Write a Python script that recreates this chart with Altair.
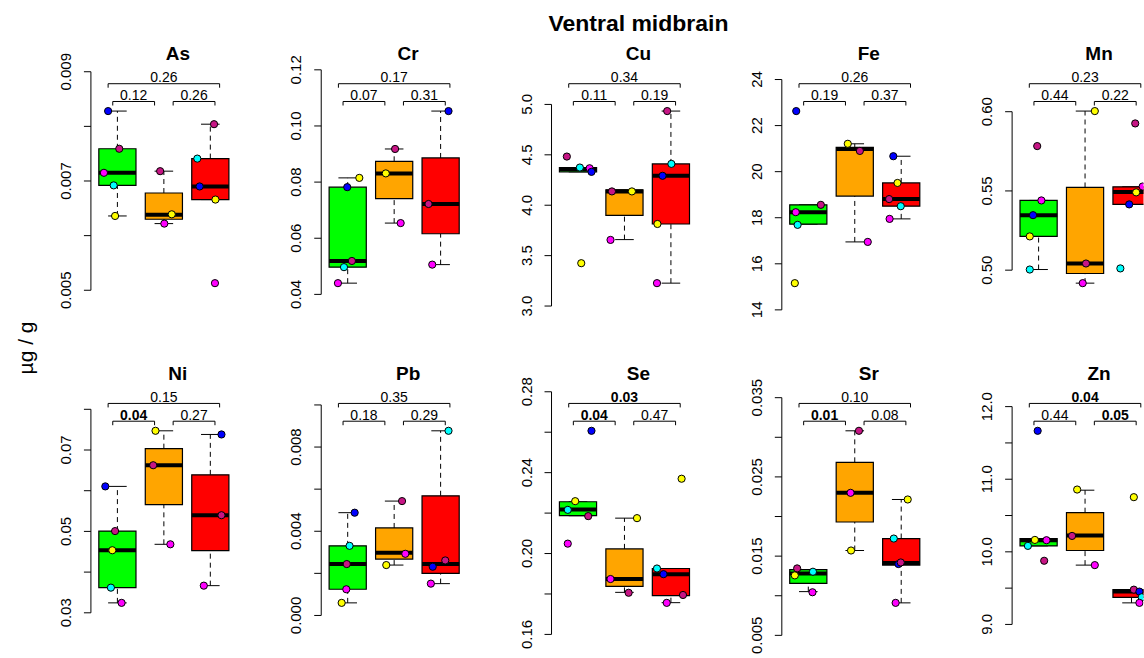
import altair as alt
import pandas as pd

FONT = "Liberation Sans"

# ---------------- data ----------------
ELEMENTS = ["As", "Cr", "Cu", "Fe", "Mn", "Ni", "Pb", "Se", "Sr", "Zn"]
BOX_COLORS = ["#00FF00", "#FFA500", "#FF0000"]
PT_NAMES = ["blue", "violet", "magenta", "cyan", "yellow"]
PT_COLORS = ["#0000FF", "#C71585", "#FF00FF", "#00FFFF", "#FFFF00"]

# box statistics per group (green, orange, red): [lower whisker, q1, median, q3, upper whisker]
AS_BOX = [[0.00636, 0.00692, 0.00715, 0.00759, 0.00828],
          [0.00622, 0.00630, 0.00638, 0.00678, 0.00718],
          [0.00666, 0.00666, 0.00690, 0.00741, 0.00804]]
CR_BOX = [[0.0440, 0.0497, 0.0519, 0.0782, 0.0815],
          [0.0654, 0.0741, 0.0831, 0.0874, 0.0918],
          [0.0506, 0.0616, 0.0722, 0.0886, 0.1053]]
CU_BOX = [[4.331, 4.331, 4.360, 4.374, 4.374],
          [3.659, 3.899, 4.137, 4.153, 4.153],
          [3.227, 3.814, 4.292, 4.410, 4.934]]
FE_BOX = [[17.72, 17.72, 18.24, 18.56, 18.56],
          [16.95, 18.94, 20.98, 21.06, 21.21],
          [17.95, 18.50, 18.81, 19.51, 20.67]]
MN_BOX = [[0.5004, 0.5213, 0.5347, 0.5440, 0.5440],
          [0.4918, 0.4979, 0.5042, 0.5522, 0.6004],
          [0.5415, 0.5415, 0.5493, 0.5526, 0.5526]]
NI_BOX = [[0.03244, 0.03618, 0.04537, 0.05008, 0.06106],
          [0.04683, 0.05659, 0.06626, 0.07033, 0.07472],
          [0.03667, 0.04528, 0.05398, 0.06390, 0.07382]]
PB_BOX = [[0.000598, 0.001244, 0.002441, 0.003307, 0.004882],
          [0.002394, 0.002677, 0.002976, 0.004157, 0.005433],
          [0.001512, 0.002000, 0.002441, 0.005685, 0.008772]]
SE_BOX = [[0.2187, 0.2187, 0.2218, 0.2256, 0.2256],
          [0.1808, 0.1838, 0.1874, 0.2023, 0.2175],
          [0.1757, 0.1792, 0.1898, 0.1926, 0.1926]]
SR_BOX = [[0.01052, 0.01157, 0.01282, 0.01330, 0.01330],
          [0.01571, 0.01931, 0.02299, 0.02684, 0.03082],
          [0.00910, 0.01387, 0.01412, 0.01722, 0.02215]]
ZN_BOX = [[10.082, 10.082, 10.160, 10.183, 10.183],
          [9.817, 10.018, 10.224, 10.539, 10.849],
          [9.297, 9.374, 9.452, 9.479, 9.479]]

# individual points: (group, colour, value, jitter)
AS_PTS = [(1, "blue", 0.00828, -0.20), (1, "violet", 0.00759, 0.04), (1, "magenta", 0.00715, -0.29),
          (1, "cyan", 0.00692, -0.08), (1, "yellow", 0.00636, -0.05),
          (2, "violet", 0.00718, -0.08), (2, "yellow", 0.00639, 0.17), (2, "magenta", 0.00622, 0.01),
          (3, "violet", 0.00804, 0.08), (3, "cyan", 0.00741, -0.28), (3, "blue", 0.00690, -0.23),
          (3, "yellow", 0.00666, 0.11), (3, "magenta", 0.00513, 0.10)]
CR_PTS = [(1, "yellow", 0.0815, 0.25), (1, "blue", 0.0782, -0.01), (1, "violet", 0.0519, 0.09),
          (1, "cyan", 0.0497, -0.08), (1, "magenta", 0.0440, -0.21),
          (2, "violet", 0.0918, 0.02), (2, "yellow", 0.0831, -0.18), (2, "magenta", 0.0654, 0.14),
          (3, "blue", 0.1053, 0.17), (3, "violet", 0.0722, -0.26), (3, "magenta", 0.0506, -0.18)]
CU_PTS = [(1, "violet", 4.483, -0.24), (1, "cyan", 4.374, 0.04), (1, "magenta", 4.367, 0.25),
          (1, "blue", 4.331, 0.29), (1, "yellow", 3.425, 0.07),
          (2, "violet", 4.137, -0.27), (2, "yellow", 4.137, 0.16), (2, "magenta", 3.656, -0.30),
          (3, "violet", 4.934, -0.08), (3, "cyan", 4.410, 0.01), (3, "blue", 4.292, -0.18),
          (3, "yellow", 3.814, -0.29), (3, "magenta", 3.227, -0.30)]
FE_PTS = [(1, "blue", 22.63, -0.26), (1, "violet", 18.56, 0.27), (1, "magenta", 18.24, -0.27),
          (1, "cyan", 17.69, -0.23), (1, "yellow", 15.16, -0.29),
          (2, "yellow", 21.21, -0.15), (2, "violet", 20.90, 0.11), (2, "magenta", 16.95, 0.28),
          (3, "blue", 20.67, -0.17), (3, "yellow", 19.51, -0.08), (3, "violet", 18.81, -0.26),
          (3, "cyan", 18.50, -0.01), (3, "magenta", 17.95, -0.25)]
MN_PTS = [(1, "violet", 0.5783, -0.03), (1, "magenta", 0.5440, 0.06), (1, "blue", 0.5347, -0.12),
          (1, "yellow", 0.5213, -0.19), (1, "cyan", 0.5004, -0.19),
          (2, "yellow", 0.6004, 0.21), (2, "violet", 0.5042, 0.02), (2, "magenta", 0.4918, -0.05),
          (3, "violet", 0.5926, 0.08), (3, "magenta", 0.5528, 0.24), (3, "yellow", 0.5491, 0.10),
          (3, "blue", 0.5415, -0.05), (3, "cyan", 0.5011, -0.24)]
NI_PTS = [(1, "blue", 0.06106, -0.26), (1, "violet", 0.05008, -0.05), (1, "yellow", 0.04537, -0.11),
          (1, "cyan", 0.03618, -0.14), (1, "magenta", 0.03244, 0.09),
          (2, "yellow", 0.07472, -0.18), (2, "violet", 0.06626, -0.23), (2, "magenta", 0.04683, 0.14),
          (3, "blue", 0.07382, 0.24), (3, "violet", 0.05398, 0.24), (3, "magenta", 0.03667, -0.14)]
PB_PTS = [(1, "blue", 0.004882, 0.15), (1, "cyan", 0.003307, 0.04), (1, "violet", 0.002441, -0.02),
          (1, "magenta", 0.001244, -0.03), (1, "yellow", 0.000598, -0.13),
          (2, "violet", 0.005433, 0.17), (2, "magenta", 0.002929, 0.24), (2, "yellow", 0.002394, -0.17),
          (3, "cyan", 0.008772, 0.17), (3, "violet", 0.002614, 0.10), (3, "blue", 0.002315, -0.17),
          (3, "magenta", 0.001512, -0.21)]
SE_PTS = [(1, "blue", 0.2607, 0.29), (1, "yellow", 0.2259, -0.06), (1, "cyan", 0.2216, -0.22),
          (1, "violet", 0.2185, 0.22), (1, "magenta", 0.2049, -0.22),
          (2, "yellow", 0.2175, 0.27), (2, "magenta", 0.1874, -0.30), (2, "violet", 0.1806, 0.09),
          (3, "yellow", 0.2370, 0.23), (3, "cyan", 0.1926, -0.30), (3, "blue", 0.1898, -0.16),
          (3, "violet", 0.1795, 0.26), (3, "magenta", 0.1756, -0.09)]
SR_PTS = [(1, "violet", 0.01345, -0.24), (1, "cyan", 0.01303, 0.10), (1, "yellow", 0.01257, -0.29),
          (1, "magenta", 0.01044, 0.09),
          (2, "violet", 0.03082, 0.09), (2, "magenta", 0.02299, -0.09), (2, "yellow", 0.01571, -0.08),
          (3, "yellow", 0.02215, 0.14), (3, "cyan", 0.01722, -0.16), (3, "blue", 0.01400, -0.06),
          (3, "violet", 0.01420, -0.01), (3, "magenta", 0.00910, -0.12)]
ZN_PTS = [(1, "blue", 11.667, -0.02), (1, "yellow", 10.164, -0.08), (1, "magenta", 10.160, 0.17),
          (1, "cyan", 10.082, -0.23), (1, "violet", 9.877, 0.12),
          (2, "yellow", 10.858, -0.17), (2, "violet", 10.219, -0.28), (2, "magenta", 9.817, 0.21),
          (3, "yellow", 10.753, 0.05), (3, "violet", 9.479, 0.05), (3, "blue", 9.452, 0.17),
          (3, "cyan", 9.374, 0.22), (3, "magenta", 9.297, 0.17)]

# y axis ticks and their labels ("" = unlabeled tick)
AS_TICKS = [0.005, 0.006, 0.007, 0.008, 0.009]
AS_LABELS = ["0.005", "", "0.007", "", "0.009"]
CR_TICKS = [0.04, 0.06, 0.08, 0.10, 0.12]
CR_LABELS = ["0.04", "0.06", "0.08", "0.10", "0.12"]
CU_TICKS = [3.0, 3.5, 4.0, 4.5, 5.0]
CU_LABELS = ["3.0", "3.5", "4.0", "4.5", "5.0"]
FE_TICKS = [14, 16, 18, 20, 22, 24]
FE_LABELS = ["14", "16", "18", "20", "22", "24"]
MN_TICKS = [0.50, 0.55, 0.60]
MN_LABELS = ["0.50", "0.55", "0.60"]
NI_TICKS = [0.03, 0.04, 0.05, 0.06, 0.07, 0.08]
NI_LABELS = ["0.03", "", "0.05", "", "0.07", ""]
PB_TICKS = [0.000, 0.002, 0.004, 0.006, 0.008, 0.010]
PB_LABELS = ["0.000", "", "0.004", "", "0.008", ""]
SE_TICKS = [0.16, 0.18, 0.20, 0.22, 0.24, 0.26, 0.28]
SE_LABELS = ["0.16", "", "0.20", "", "0.24", "", "0.28"]
SR_TICKS = [0.005, 0.010, 0.015, 0.020, 0.025, 0.030, 0.035]
SR_LABELS = ["0.005", "", "0.015", "", "0.025", "", "0.035"]
ZN_TICKS = [9.0, 9.5, 10.0, 10.5, 11.0, 11.5, 12.0]
ZN_LABELS = ["9.0", "", "10.0", "", "11.0", "", "12.0"]

# p-values: [green vs orange, orange vs red, green vs red]
AS_P = ["0.12", "0.26", "0.26"]
CR_P = ["0.07", "0.31", "0.17"]
CU_P = ["0.11", "0.19", "0.34"]
FE_P = ["0.19", "0.37", "0.26"]
MN_P = ["0.44", "0.22", "0.23"]
NI_P = ["0.04", "0.27", "0.15"]
PB_P = ["0.18", "0.29", "0.35"]
SE_P = ["0.04", "0.47", "0.03"]
SR_P = ["0.01", "0.08", "0.10"]
ZN_P = ["0.44", "0.05", "0.04"]

PANELS = [
    ("As", AS_BOX, AS_PTS, AS_TICKS, AS_LABELS, AS_P),
    ("Cr", CR_BOX, CR_PTS, CR_TICKS, CR_LABELS, CR_P),
    ("Cu", CU_BOX, CU_PTS, CU_TICKS, CU_LABELS, CU_P),
    ("Fe", FE_BOX, FE_PTS, FE_TICKS, FE_LABELS, FE_P),
    ("Mn", MN_BOX, MN_PTS, MN_TICKS, MN_LABELS, MN_P),
    ("Ni", NI_BOX, NI_PTS, NI_TICKS, NI_LABELS, NI_P),
    ("Pb", PB_BOX, PB_PTS, PB_TICKS, PB_LABELS, PB_P),
    ("Se", SE_BOX, SE_PTS, SE_TICKS, SE_LABELS, SE_P),
    ("Sr", SR_BOX, SR_PTS, SR_TICKS, SR_LABELS, SR_P),
    ("Zn", ZN_BOX, ZN_PTS, ZN_TICKS, ZN_LABELS, ZN_P),
]

# ---------------- layout / style constants ----------------
PXU = 46.5          # pixels per group unit
X0 = 0.43           # x domain start (group units)
W = 150
W_LAST = 131.5
H = 186
COL_SP = 80.5
ROW_SP = 134
BOX_HALF = 0.4
CAP_HALF = 0.2
SMALL_SPANS = [(0.9, 1.8), (2.2, 3.1)]
BIG_SPAN = (0.8, 3.2)
ONE = pd.DataFrame({"k": [0]})


def bracket_layers(x1, x2, yline, ytext, label, xs):
    df = pd.DataFrame({"x1": [x1], "x2": [x2], "xm": [(x1 + x2) / 2], "p": [label]})
    bold = float(label) <= 0.05
    base = alt.Chart(df)
    line = base.mark_rule(color="black", strokeWidth=1).encode(
        x=alt.X("x1:Q", scale=xs, axis=None), x2="x2:Q", y=alt.value(yline))
    t1 = base.mark_rule(color="black", strokeWidth=1).encode(
        x=alt.X("x1:Q", scale=xs, axis=None), y=alt.value(yline), y2=alt.value(yline + 4))
    t2 = base.mark_rule(color="black", strokeWidth=1).encode(
        x=alt.X("x2:Q", scale=xs, axis=None), y=alt.value(yline), y2=alt.value(yline + 4))
    txt = base.mark_text(font=FONT, fontSize=14, fontWeight="bold" if bold else "normal",
                         baseline="alphabetic", align="center").encode(
        x=alt.X("xm:Q", scale=xs, axis=None), y=alt.value(ytext), text="p:N")
    return [line, t1, t2, txt]


def make_panel(name, box, pts, ticks, labels, pvals, width, clip, extras):
    xs = alt.Scale(domain=[X0, X0 + width / PXU], nice=False, zero=False)
    allv = [v for row in box for v in row] + [p[2] for p in pts]
    vmin, vmax = min(allv), max(allv)
    pad = 0.04 * (vmax - vmin)
    ys = alt.Scale(domain=[vmin - pad, vmax + pad], nice=False, zero=False)

    bdf = pd.DataFrame(box, columns=["lo", "q1", "med", "q3", "hi"])
    bdf["g"] = [1, 2, 3]
    bdf["fill"] = BOX_COLORS
    bdf["xl"] = bdf["g"] - BOX_HALF
    bdf["xr"] = bdf["g"] + BOX_HALF
    bdf["cl"] = bdf["g"] - CAP_HALF
    bdf["cr"] = bdf["g"] + CAP_HALF
    b = alt.Chart(bdf)

    whisk_hi = b.mark_rule(color="black", strokeWidth=1, strokeDash=[5, 4], clip=clip).encode(
        x=alt.X("g:Q", scale=xs, axis=None), y=alt.Y("q3:Q", scale=ys, axis=None), y2="hi:Q")
    whisk_lo = b.mark_rule(color="black", strokeWidth=1, strokeDash=[5, 4], clip=clip).encode(
        x=alt.X("g:Q", scale=xs, axis=None), y=alt.Y("lo:Q", scale=ys, axis=None), y2="q1:Q")
    cap_hi = b.mark_rule(color="black", strokeWidth=1, clip=clip).encode(
        x=alt.X("cl:Q", scale=xs, axis=None), x2="cr:Q", y=alt.Y("hi:Q", scale=ys, axis=None))
    cap_lo = b.mark_rule(color="black", strokeWidth=1, clip=clip).encode(
        x=alt.X("cl:Q", scale=xs, axis=None), x2="cr:Q", y=alt.Y("lo:Q", scale=ys, axis=None))
    boxes = b.mark_rect(stroke="black", strokeWidth=1.2, clip=clip).encode(
        x=alt.X("xl:Q", scale=xs, axis=None), x2="xr:Q",
        y=alt.Y("q1:Q", scale=ys, axis=None), y2="q3:Q",
        fill=alt.Fill("fill:N", scale=None))
    med = b.mark_rule(color="black", strokeWidth=4, clip=clip).encode(
        x=alt.X("xl:Q", scale=xs, axis=None), x2="xr:Q", y=alt.Y("med:Q", scale=ys, axis=None))

    pdf = pd.DataFrame(pts, columns=["g", "c", "v", "dx"])
    pdf["px"] = pdf["g"] + pdf["dx"]
    points = alt.Chart(pdf).mark_circle(size=52, stroke="black", strokeWidth=1, opacity=1,
                                        clip=clip).encode(
        x=alt.X("px:Q", scale=xs, axis=None), y=alt.Y("v:Q", scale=ys, axis=None),
        fill=alt.Fill("c:N", scale=alt.Scale(domain=PT_NAMES, range=PT_COLORS), legend=None))

    tdf = pd.DataFrame({"t": ticks, "lab": labels})
    tick_rules = alt.Chart(tdf).mark_rule(color="black", strokeWidth=1).encode(
        x=alt.value(-7), x2=alt.value(0), y=alt.Y("t:Q", scale=ys, axis=None))
    adf = pd.DataFrame({"a": [min(ticks)], "b": [max(ticks)]})
    axis_line = alt.Chart(adf).mark_rule(color="black", strokeWidth=1).encode(
        x=alt.value(0), y=alt.Y("a:Q", scale=ys, axis=None), y2="b:Q")
    tick_text = alt.Chart(tdf).mark_text(font=FONT, fontSize=15, angle=270, align="center",
                                         baseline="alphabetic").encode(
        x=alt.value(-20), y=alt.Y("t:Q", scale=ys, axis=None), text="lab:N")

    title = alt.Chart(ONE).mark_text(text=name, font=FONT, fontSize=19, fontWeight="bold",
                                     baseline="alphabetic", align="center").encode(
        x=alt.value(87), y=alt.value(-44))

    layers = [whisk_hi, whisk_lo, cap_hi, cap_lo, boxes, med, points,
              axis_line, tick_rules, tick_text, title]
    layers += bracket_layers(SMALL_SPANS[0][0], SMALL_SPANS[0][1], -2.7, -4.3, pvals[0], xs)
    layers += bracket_layers(SMALL_SPANS[1][0], SMALL_SPANS[1][1], -2.7, -4.3, pvals[1], xs)
    layers += bracket_layers(BIG_SPAN[0], BIG_SPAN[1], -20.5, -22, pvals[2], xs)
    layers += extras
    return alt.layer(*layers).properties(width=width, height=H)


main_title = alt.Chart(ONE).mark_text(text="Ventral midbrain", font=FONT, fontSize=23,
                                      fontWeight="bold", baseline="alphabetic",
                                      align="center").encode(x=alt.value(87), y=alt.value(-72.8))
ylab = alt.Chart(ONE).mark_text(text="µg / g", font=FONT, fontSize=21, angle=270,
                                align="center", baseline="middle").encode(
    x=alt.value(-64), y=alt.value(244))
spacer = alt.Chart(ONE).mark_point(size=1, opacity=0, strokeWidth=0, shape="square").encode(
    x=alt.value(-90), y=alt.value(-103.5))

panels = []
for i, (name, box, pts, ticks, labels, pvals) in enumerate(PANELS):
    last = (i % 5) == 4
    extras = []
    if i == 0:
        extras = [ylab, spacer]
    if i == 2:
        extras = [main_title]
    panels.append(make_panel(name, box, pts, ticks, labels, pvals,
                             W_LAST if last else W, last, extras))

chart = alt.concat(*panels, columns=5, spacing={"row": ROW_SP, "column": COL_SP},
                   bounds="flush", align="each").properties(
    padding={"left": 0, "top": 0, "right": 0, "bottom": 0}
).configure_view(stroke=None)

chart.save("out.html", embed_options={"renderer": "svg", "actions": False})
